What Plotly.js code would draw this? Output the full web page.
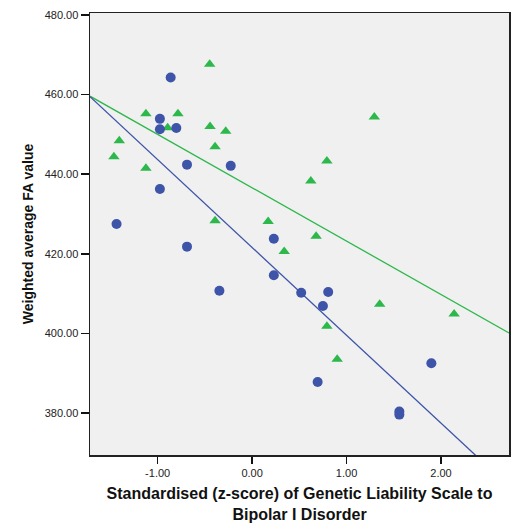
<!DOCTYPE html>
<html>
<head>
<meta charset="utf-8">
<script src="https://cdn.plot.ly/plotly-3.0.1.min.js"></script>
<style>html,body{margin:0;padding:0;background:#fff;}#chart{width:511px;height:523px;}</style>
</head>
<body>
<div id="chart"></div>
<script>
// Group 1 (blue circles)
const blueX = [-1.435, -0.862, -0.976, -0.976, -0.802, -0.689, -0.226, -0.976, -0.689, -0.346, 0.230, 0.230, 0.520, 0.806, 0.750, 0.694, 1.898, 1.559, 1.559];
const blueY = [427.5, 464.3, 453.9, 451.3, 451.6, 442.4, 442.1, 436.3, 421.8, 410.7, 423.8, 414.6, 410.2, 410.4, 406.9, 387.8, 392.5, 380.4, 379.6];
// Group 2 (green triangles)
const greenX = [-0.449, -1.124, -0.785, -0.894, -0.445, -0.279, -0.392, -1.406, -1.463, -1.124, -0.392, 1.294, 0.792, 0.622, 0.170, 0.678, 0.340, 1.351, 0.792, 0.901, 2.139];
const greenY = [467.6, 455.2, 455.2, 451.7, 452.0, 450.8, 446.9, 448.4, 444.4, 441.5, 428.3, 454.4, 443.3, 438.3, 428.1, 424.4, 420.6, 407.3, 401.8, 393.5, 404.9];
// Fit lines: [intercept, slope]
const blueFit = [421.6, -22.07];
const greenFit = [436.6, -13.41];
// Axis ranges and ticks
const xRange = [-1.716, 2.72];
const yRange = [369.45, 480.5];
const xTickVals = [-1, 0, 1, 2];
const xTickText = ["-1.00", "0.00", "1.00", "2.00"];
const yTickVals = [380, 400, 420, 440, 460, 480];
const yTickText = ["380.00", "400.00", "420.00", "440.00", "460.00", "480.00"];

const blueC = '#3d54a8';
const greenC = '#2db84c';

function fitLine(fit) {
  return { x: xRange.slice(), y: xRange.map(v => fit[0] + fit[1] * v) };
}
const bl = fitLine(blueFit), gl = fitLine(greenFit);

const data = [
  { x: gl.x, y: gl.y, mode: 'lines', type: 'scatter', line: { color: greenC, width: 1.3 }, hoverinfo: 'skip' },
  { x: bl.x, y: bl.y, mode: 'lines', type: 'scatter', line: { color: blueC, width: 1.3 }, hoverinfo: 'skip' },
  { x: greenX, y: greenY, mode: 'markers', type: 'scatter', marker: { symbol: 'triangle-up', size: 10, color: greenC } },
  { x: blueX, y: blueY, mode: 'markers', type: 'scatter', marker: { symbol: 'circle', size: 10, color: blueC } }
];

const tickFont = { family: 'Liberation Sans, Arial, sans-serif', size: 11, color: '#222' };
const xTitleFont = { family: 'Liberation Sans, Arial, sans-serif', size: 16, color: '#111', weight: 'bold' };
const yTitleFont = { family: 'Liberation Sans, Arial, sans-serif', size: 14, color: '#111', weight: 'bold' };

const layout = {
  width: 511, height: 523,
  margin: { l: 90, r: 2, t: 13, b: 68 },
  paper_bgcolor: '#ffffff',
  plot_bgcolor: '#f0f0f0',
  showlegend: false,
  xaxis: {
    range: xRange, tickvals: xTickVals, ticktext: xTickText,
    ticks: 'outside', ticklen: 7, tickwidth: 1.5, tickcolor: '#111',
    showgrid: false, zeroline: false,
    showline: true, mirror: true, linecolor: '#222', linewidth: 1.5,
    tickfont: tickFont,
    title: { text: '<b>Standardised (z-score) of Genetic Liability Scale to<br>Bipolar I Disorder</b>', font: xTitleFont, standoff: 15 }
  },
  yaxis: {
    range: yRange, tickvals: yTickVals, ticktext: yTickText,
    ticks: 'outside', ticklen: 8, tickwidth: 1.5, tickcolor: '#111',
    showgrid: false, zeroline: false,
    showline: true, mirror: true, linecolor: '#222', linewidth: 1.5,
    tickfont: tickFont,
    title: { text: '<b>Weighted average FA value</b>', font: yTitleFont, standoff: 7 }
  }
};

Plotly.newPlot('chart', data, layout, { displayModeBar: false, staticPlot: true });
</script>
</body>
</html>
